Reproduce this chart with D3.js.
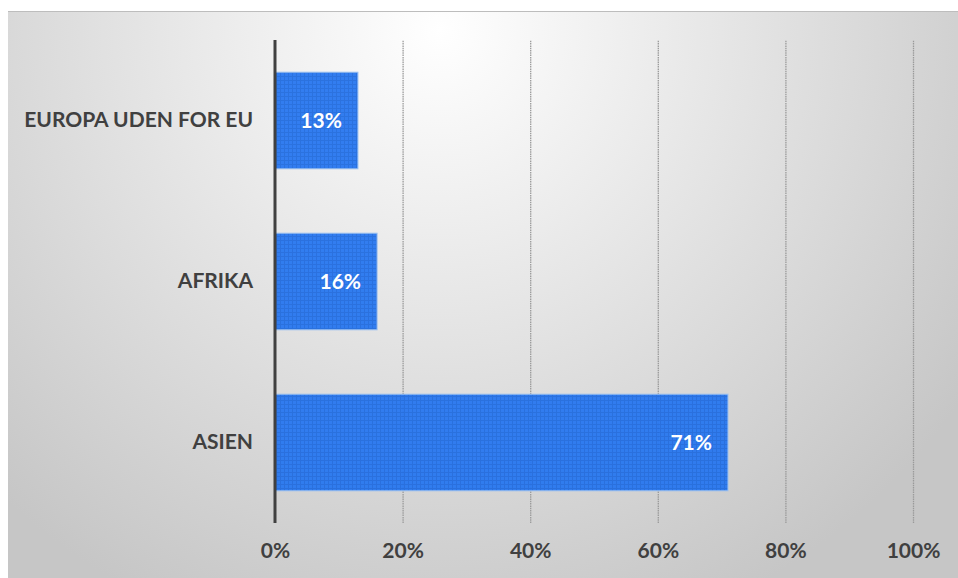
<!DOCTYPE html>
<html><head><meta charset="utf-8">
<script src="https://cdn.jsdelivr.net/npm/d3@7"></script>
<style>body{margin:0;background:#fff;}svg{display:block;}</style>
</head><body>
<script>
const categories = ["EUROPA UDEN FOR EU", "AFRIKA", "ASIEN"];
const values = [13, 16, 71];
const tickValues = [0, 20, 40, 60, 80, 100];

const W = 958, H = 578;
const FONT = "Lato, 'Open Sans', sans-serif";
const svg = d3.select("body").append("svg").attr("width", W).attr("height", H);
const defs = svg.append("defs");
const rg = defs.append("radialGradient").attr("id", "bg")
  .attr("gradientUnits", "userSpaceOnUse")
  .attr("cx", 440).attr("cy", 30).attr("r", 640);
rg.append("stop").attr("offset", "0%").attr("stop-color", "#ffffff");
rg.append("stop").attr("offset", "100%").attr("stop-color", "#c6c6c6");

const pat = defs.append("pattern").attr("id", "barpat").attr("patternUnits", "userSpaceOnUse")
  .attr("width", 4).attr("height", 4);
pat.append("rect").attr("width", 4).attr("height", 4).attr("fill", "#2676f0");
pat.append("rect").attr("width", 1).attr("height", 4).attr("fill", "#1f6ade");
pat.append("rect").attr("width", 4).attr("height", 1).attr("fill", "#1f6ade");

svg.append("rect").attr("x", 8).attr("y", 11).attr("width", W - 8).attr("height", H - 11)
  .attr("fill", "url(#bg)");
svg.append("line").attr("x1", 8).attr("x2", W).attr("y1", 11.5).attr("y2", 11.5)
  .attr("stroke", "#bdbdbd").attr("stroke-width", 1);

const x = d3.scaleLinear().domain([0, 100]).range([275, 913]);
const y = d3.scaleBand().domain(categories).range([40, 523]).paddingInner(0.4).paddingOuter(0.2);

// gridlines
const grid = svg.append("g").attr("transform", "translate(0,523)")
  .call(d3.axisBottom(x).tickValues(tickValues.slice(1)).tickSize(-483).tickFormat(""));
grid.select(".domain").remove();
grid.selectAll("line").attr("stroke", "#9a9a9a").attr("stroke-width", 1.3)
  .attr("stroke-dasharray", "1.5,0.8");

// bars
svg.append("g").selectAll("rect").data(values).join("rect")
  .attr("x", x(0))
  .attr("y", (d, i) => y(categories[i]))
  .attr("width", d => x(d) - x(0))
  .attr("height", y.bandwidth())
  .attr("fill", "url(#barpat)")
  .attr("fill-opacity", 0.94)
  .attr("stroke", "#9cc0f0").attr("stroke-width", 1);

// data labels
svg.append("g").selectAll("text").data(values).join("text")
  .attr("x", d => x(d) - 16)
  .attr("y", (d, i) => y(categories[i]) + y.bandwidth() / 2)
  .attr("dy", "0.36em")
  .attr("text-anchor", "end")
  .attr("fill", "#ffffff")
  .style("font-family", FONT)
  .style("font-weight", "bold").style("font-size", "21px")
  .text(d => d + "%");

// y axis line
svg.append("line").attr("x1", x(0)).attr("x2", x(0)).attr("y1", 40).attr("y2", 523)
  .attr("stroke", "#404040").attr("stroke-width", 3);

// category labels
const yAxis = svg.append("g").attr("transform", `translate(${x(0)},0)`)
  .call(d3.axisLeft(y).tickSize(0).tickPadding(22));
yAxis.select(".domain").remove();
yAxis.selectAll("text").attr("fill", "#404040")
  .style("font-family", FONT)
  .style("font-weight", "bold").style("font-size", "21px");

// x tick labels
const xAxis = svg.append("g").attr("transform", "translate(0,523)")
  .call(d3.axisBottom(x).tickValues(tickValues).tickSize(0).tickPadding(20).tickFormat(d => d + "%"));
xAxis.select(".domain").remove();
xAxis.selectAll("text").attr("fill", "#404040")
  .style("font-family", FONT)
  .style("font-weight", "bold").style("font-size", "21px");
</script>
</body></html>
